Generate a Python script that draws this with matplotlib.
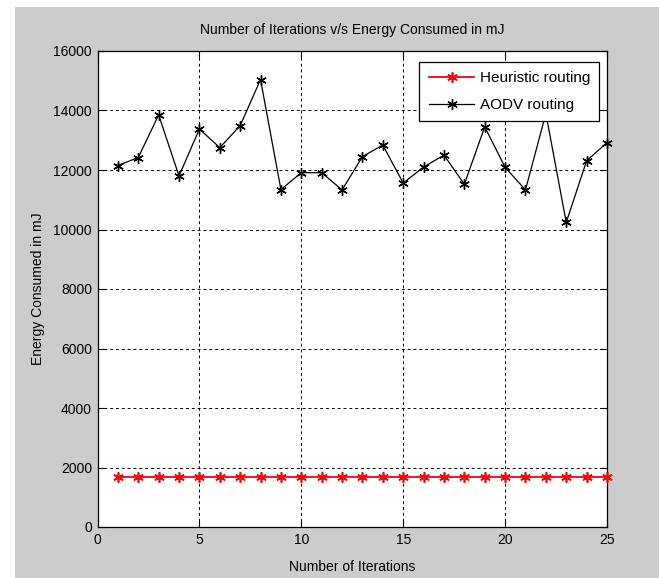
#! /usr/bin/env python

# Necessary Libraries
import numpy as np
import matplotlib
matplotlib.use("Agg")
import matplotlib.pyplot as plt
from matplotlib.patches import Rectangle

# Data
iterations = list(range(1, 26))
heuristic = [1680] * 25
aodv = [12150, 12420, 13850, 11800, 13380, 12750, 13490, 15040, 11340, 11910,
        11910, 11330, 12450, 12840, 11560, 12100, 12500, 11520, 13450, 12090,
        11330, 13900, 10240, 12310, 12920]

xticks = [0, 5, 10, 15, 20, 25]
yticks = [0, 2000, 4000, 6000, 8000, 10000, 12000, 14000, 16000]

plt.rcParams['font.family'] = ['Liberation Sans', 'DejaVu Sans']

fig = plt.figure(figsize=(6.59, 5.78), dpi=100, facecolor='white')
# MATLAB grey figure area (white strip at top and left in the screenshot)
fig.patches.append(Rectangle((15 / 659, 0), 1, 1 - 7 / 578, transform=fig.transFigure,
                             facecolor='#cccccc', edgecolor='none', zorder=-1))

ax = fig.add_axes([97.5 / 659, 1 - 527 / 578, (607 - 97.5) / 659, (527 - 51) / 578])
ax.set_facecolor('white')

star = (6, 2, 0)
ax.plot(iterations, heuristic, color='red', lw=1.3, marker=star, ms=7.5, mew=1.2,
        label='Heuristic routing', clip_on=False, zorder=3)
ax.plot(iterations, aodv, color='black', lw=0.9, marker=star, ms=7.5, mew=1.0,
        label='AODV routing', clip_on=False, zorder=3)

ax.set_xlim(0, 25)
ax.set_ylim(0, 16000)
ax.set_xticks(xticks)
ax.set_yticks(yticks)
ax.grid(True, color='black', linestyle=(0, (3, 3)), linewidth=0.7)
ax.tick_params(direction='in', length=5, width=0.8, top=True, right=True,
               labelsize=10, colors='black', pad=4)
for s in ax.spines.values():
    s.set_linewidth(0.9)

ax.set_title('Number of Iterations v/s Energy Consumed in mJ', fontsize=10, pad=12)
ax.set_xlabel('Number of Iterations', fontsize=10, labelpad=10)
ax.set_ylabel('Energy Consumed in mJ', fontsize=10, labelpad=6)

leg = ax.legend(loc='upper right', bbox_to_anchor=(0.985, 0.977), borderaxespad=0,
                fontsize=11, fancybox=False, framealpha=1, edgecolor='black',
                handlelength=3.0, handletextpad=0.35, labelspacing=0.85,
                borderpad=0.6)
leg.get_frame().set_linewidth(0.9)
leg.set_zorder(5)

plt.savefig('out.png', dpi=100, facecolor=fig.get_facecolor())
